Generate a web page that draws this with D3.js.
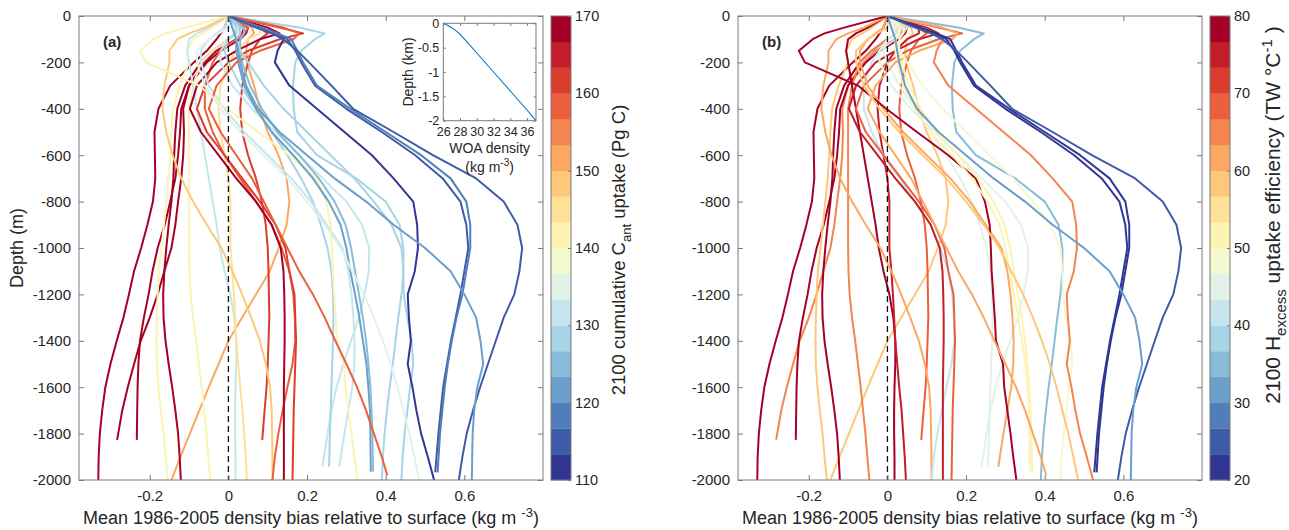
<!DOCTYPE html>
<html>
<head>
<meta charset="utf-8">
<script src="https://cdn.jsdelivr.net/npm/d3@7"></script>
<style>
  body { margin: 0; background: #fff; }
  svg { display: block; }
  text { font-family: "Liberation Sans", Arial, Helvetica, sans-serif; fill: #262626; }
</style>
</head>
<body>
<svg id="fig" width="1289" height="530"></svg>
<script>
// Depth levels (m) at which each model's density-bias profile is given
const depthLevels = [0, 50, 75, 100, 150, 200, 300, 400, 500, 600, 700, 800, 900, 1000,
  1100, 1200, 1300, 1400, 1500, 1600, 1700, 1800, 1900, 2000];

// Mean 1986-2005 density bias relative to surface (kg m-3), one row per model.
// Shorter rows stop early; their last value sits at the model's deepest level.
const biasProfiles = [
  [0,-0.01,-0.02,-0.03,-0.055,-0.088,-0.148,-0.178,-0.188,-0.187,-0.186,-0.192,-0.206,-0.222,-0.24,-0.253,-0.267,-0.284,-0.3,-0.313,-0.321,-0.327,-0.33,-0.331],
  [0,0.04,0.035,0.02,-0.03,-0.06,-0.1,-0.115,-0.113,-0.115,-0.12,-0.128,-0.135,-0.145,-0.163,-0.18,-0.2,-0.223,-0.24,-0.256,-0.27,-0.283],
  [0,0.05,0.045,0.03,-0.02,-0.055,-0.1,-0.12,-0.123,-0.128,-0.135,-0.148,-0.162,-0.18,-0.193,-0.203,-0.215,-0.225,-0.229,-0.231,-0.232,-0.233],
  [0,-0.04,-0.065,-0.09,-0.105,-0.1,-0.124,-0.141,-0.145,-0.148,-0.152,-0.158,-0.164,-0.17,-0.177,-0.18,-0.182,-0.183,-0.182,-0.178,-0.172,-0.165,-0.16,-0.154],
  [0,0.06,0.065,0.05,0.045,0.047,0.065,0.08,0.1,0.127,0.148,0.155,0.148,0.128,0.105,0.07,0.035,0.0,-0.025,-0.05,-0.074,-0.098,-0.122,-0.145],
  [0,0.03,0.02,0.0,-0.04,-0.07,-0.11,-0.13,-0.135,-0.138,-0.14,-0.145,-0.152,-0.158,-0.163,-0.166,-0.165,-0.16,-0.152,-0.143,-0.135,-0.128,-0.124,-0.121],
  [0,0.03,0.02,0.0,-0.04,-0.07,-0.09,-0.1,-0.1,-0.1,-0.1,-0.1,-0.1,-0.1,-0.099,-0.096,-0.09,-0.082,-0.075,-0.068,-0.062,-0.056,-0.051,-0.046],
  [0,-0.05,-0.08,-0.1,-0.105,-0.1,-0.09,-0.08,-0.07,-0.06,-0.05,-0.04,-0.03,-0.022,-0.01,0.005,0.015,0.02,0.02,0.018,0.017,0.017,0.018,0.018],
  [0,0.08,0.08,0.05,0.02,0.0,-0.02,-0.025,-0.02,-0.01,0.0,0.005,0.005,0.005,0.01,0.014,0.017,0.02,0.025,0.03,0.036,0.04,0.044,0.047],
  [0,0.08,0.1,0.08,0.06,0.05,0.035,0.03,0.035,0.05,0.07,0.085,0.095,0.1,0.102,0.103,0.104,0.102,0.1,0.097,0.092,0.086],
  [0,-0.06,-0.1,-0.13,-0.15,-0.15,-0.163,-0.168,-0.158,-0.142,-0.12,-0.09,-0.055,-0.018,0.01,0.035,0.058,0.08,0.095,0.106,0.11,0.111,0.112,0.112],
  [0,0.05,0.04,0.02,-0.02,-0.04,-0.06,-0.06,-0.04,-0.01,0.03,0.07,0.11,0.135,0.155,0.165,0.169,0.17,0.163,0.15,0.138,0.127,0.118,0.112],
  [0,0.1,0.13,0.08,0.02,-0.03,-0.08,-0.098,-0.07,-0.025,0.02,0.07,0.11,0.133,0.14,0.142,0.143,0.143,0.142,0.141,0.141,0.141,0.141,0.141],
  [0,0.13,0.19,0.13,0.05,0.0,-0.06,-0.08,-0.055,-0.01,0.035,0.08,0.12,0.145,0.155,0.168,0.17,0.172,0.17,0.168,0.166,0.165,0.164,0.163],
  [0,0.03,0.02,0.0,-0.02,-0.02,0.01,0.06,0.12,0.18,0.24,0.3,0.34,0.358,0.357,0.346,0.332,0.312,0.292,0.275,0.262,0.252,0.239],
  [0,0.02,0.015,0.0,-0.01,0.0,0.03,0.07,0.11,0.15,0.185,0.215,0.235,0.252,0.262,0.266,0.267,0.266,0.264,0.262,0.26,0.258,0.256],
  [0,-0.01,-0.03,-0.05,-0.07,-0.07,-0.05,-0.01,0.04,0.1,0.16,0.21,0.25,0.29,0.305,0.313,0.318,0.321,0.32,0.315,0.305,0.295,0.282],
  [0,-0.11,-0.16,-0.19,-0.225,-0.21,-0.075,-0.003,0.075,0.155,0.225,0.248,0.26,0.263,0.265,0.269,0.273,0.276,0.294,0.297,0.305,0.313,0.32,0.328],
  [0,0.03,0.03,0.02,0.02,0.025,0.04,0.07,0.11,0.165,0.215,0.255,0.285,0.3,0.31,0.322,0.333,0.342,0.351,0.356,0.36,0.361,0.362],
  [0,0.04,0.04,0.03,0.03,0.035,0.055,0.085,0.125,0.18,0.23,0.27,0.298,0.312,0.322,0.332,0.342,0.35,0.356,0.361,0.364,0.366,0.368],
  [0,0.18,0.245,0.22,0.185,0.17,0.164,0.166,0.175,0.225,0.325,0.4,0.435,0.445,0.445,0.44,0.432,0.425,0.418,0.41,0.403,0.397,0.393,0.39],
  [0,0.14,0.18,0.165,0.08,0.02,-0.03,-0.05,-0.02,0.02,0.06,0.09,0.12,0.15,0.18,0.215,0.245,0.272,0.3,0.327,0.35,0.37,0.39,0.404],
  [0,0.03,0.03,0.02,0.03,0.05,0.09,0.14,0.2,0.26,0.32,0.37,0.415,0.44,0.445,0.446,0.455,0.466,0.47,0.462,0.455,0.448,0.443,0.44],
  [0,0.0,-0.025,-0.05,-0.08,-0.08,-0.06,-0.02,0.03,0.09,0.15,0.2,0.245,0.285,0.315,0.345,0.37,0.393,0.413,0.43,0.445,0.46,0.473,0.485],
  [0,0.08,0.12,0.14,0.125,0.118,0.155,0.225,0.295,0.365,0.42,0.47,0.48,0.482,0.474,0.456,0.459,0.464,0.456,0.468,0.478,0.49,0.507,0.523],
  [0,0.08,0.12,0.15,0.17,0.185,0.22,0.3,0.39,0.475,0.545,0.59,0.605,0.61,0.6,0.59,0.578,0.566,0.556,0.546,0.54,0.534,0.526],
  [0,0.085,0.125,0.16,0.175,0.19,0.225,0.31,0.4,0.49,0.565,0.605,0.615,0.615,0.605,0.595,0.58,0.568,0.558,0.55,0.544,0.538,0.532],
  [0,0.07,0.11,0.14,0.175,0.205,0.262,0.317,0.42,0.52,0.63,0.7,0.735,0.747,0.74,0.727,0.7,0.68,0.66,0.64,0.622,0.606,0.595,0.586],
  [0,0.01,0.015,0.02,0.025,0.03,0.045,0.075,0.13,0.2,0.27,0.35,0.42,0.5,0.565,0.6,0.63,0.641,0.648,0.633,0.625,0.621,0.62,0.619]
];

// Deepest level reached by each model (m)
const profileBottom = [2000,1827,1827,2000,2000,2000,2000,2000,2000,1827,2000,2000,2000,2000,
  1943,1943,1943,2000,1964,1964,2000,1980,2000,2000,2000,1967,1967,2000,2000];

// 2100 cumulative anthropogenic carbon uptake (Pg C), panel (a) colouring
const cantUptake = [168.5,167.6,168.0,142.5,150.5,169.0,141.8,131.0,145.0,161.5,149.0,158.0,167.5,162.0,
  130.5,128.2,131.5,141.0,122.0,124.5,127.0,159.0,129.0,134.5,111.0,116.0,117.5,114.5,120.5];

// 2100 excess heat uptake efficiency (TW °C-1), panel (b) colouring
const heatEfficiency = [78.2,64.5,77.4,58.5,59.0,77.0,64.0,79.0,74.0,69.0,62.0,41.0,74.5,68.0,
  44.5,45.5,60.0,79.5,50.5,51.0,34.0,61.5,48.0,57.5,63.8,21.5,22.5,25.0,31.0];

const biasTicks = [-0.2, 0, 0.2, 0.4, 0.6];
const depthTicks = [0, -200, -400, -600, -800, -1000, -1200, -1400, -1600, -1800, -2000];
const cantTicks = [110, 120, 130, 140, 150, 160, 170];
const heatTicks = [20, 30, 40, 50, 60, 70, 80];

// World Ocean Atlas in-situ density profile for the inset
const woaDensity = [26, 26.4, 26.8, 27.3, 27.8, 28.8, 30, 31, 32, 33, 34, 35, 36, 37.07];
const woaDepthKm = [0, -0.03, -0.07, -0.125, -0.19, -0.375, -0.61, -0.805, -1.0, -1.195, -1.39, -1.585, -1.78, -2.0];
const insetXTicks = [26, 28, 30, 32, 34, 36];
const insetYTicks = [0, -0.5, -1, -1.5, -2];

const svg = d3.select("#fig");
const W = 464, H = 464, TOP = 16;
const AXIS = "#7a7a7a";
const nBands = 18;
const bandColor = i => d3.interpolateRdYlBu(1 - i / (nBands - 1));

const x = d3.scaleLinear().domain([-0.38, 0.8]).range([0, W]);
const y = d3.scaleLinear().domain([0, -2000]).range([0, H]);

const fmt = d => String(d);

function styleAxis(g) {
  g.select(".domain").remove();
  g.selectAll(".tick line").attr("stroke", AXIS).attr("stroke-width", 1);
  g.selectAll(".tick text").attr("fill", "#262626").attr("font-family", null);
}

function profilePoints(i) {
  const vals = biasProfiles[i];
  return vals.map((v, j) => [v, j === vals.length - 1 ? profileBottom[i] : depthLevels[j]]);
}

const panels = [
  { left: 79, tag: "(a)", values: cantUptake, domain: [110, 170], ticks: cantTicks,
    cbLabel: { size: 18.5, x: 624.5, y: 250 }, inset: true },
  { left: 738, tag: "(b)", values: heatEfficiency, domain: [20, 80], ticks: heatTicks,
    cbLabel: { size: 21, x: 1280, y: 215 }, inset: false }
];

panels.forEach((p, pi) => {
  const g = svg.append("g").attr("transform", `translate(${p.left},${TOP})`);
  const clipId = "clip" + pi;
  g.append("clipPath").attr("id", clipId).append("rect").attr("width", W).attr("height", H);

  const band = v => Math.max(0, Math.min(nBands - 1,
    Math.floor((v - p.domain[0]) / (p.domain[1] - p.domain[0]) * nBands)));

  const line = d3.line().x(d => x(d[0])).y(d => y(-d[1]));
  const lines = g.append("g").attr("clip-path", `url(#${clipId})`);
  biasProfiles.forEach((_, i) => {
    lines.append("path")
      .attr("d", line(profilePoints(i)))
      .attr("fill", "none")
      .attr("stroke", bandColor(band(p.values[i])))
      .attr("stroke-width", 2)
      .attr("stroke-linejoin", "round");
  });

  // zero-bias reference
  g.append("line")
    .attr("x1", x(0)).attr("x2", x(0)).attr("y1", y(0)).attr("y2", y(-2000))
    .attr("stroke", "#111").attr("stroke-width", 1.3).attr("stroke-dasharray", "6,4");

  // box and ticks
  g.append("rect").attr("width", W).attr("height", H)
    .attr("fill", "none").attr("stroke", AXIS).attr("stroke-width", 1);

  g.append("g").call(d3.axisLeft(y).tickValues(depthTicks).tickFormat(fmt)
      .tickSizeInner(-5).tickSizeOuter(0).tickPadding(8))
    .attr("font-size", 15).call(styleAxis);
  g.append("g").attr("transform", `translate(${W},0)`)
    .call(d3.axisRight(y).tickValues(depthTicks).tickFormat("").tickSizeInner(-5).tickSizeOuter(0))
    .call(styleAxis);
  g.append("g").attr("transform", `translate(0,${H})`)
    .call(d3.axisBottom(x).tickValues(biasTicks).tickFormat(fmt)
      .tickSizeInner(-5).tickSizeOuter(0).tickPadding(10))
    .attr("font-size", 15).call(styleAxis);
  g.append("g")
    .call(d3.axisTop(x).tickValues(biasTicks).tickFormat("").tickSizeInner(-5).tickSizeOuter(0))
    .call(styleAxis);

  g.append("text").attr("x", 24).attr("y", 31)
    .attr("font-size", 15).attr("font-weight", "bold").text(p.tag);

  // axis titles
  const xl = g.append("text").attr("x", W / 2).attr("y", 508)
    .attr("text-anchor", "middle").attr("font-size", 18);
  xl.append("tspan").text("Mean 1986-2005 density bias relative to surface (kg m ");
  xl.append("tspan").attr("font-size", 13).attr("dy", -7).text("-3");
  xl.append("tspan").attr("dy", 7).text(")");

  if (pi === 0) {
    svg.append("text").attr("transform", `translate(23,${TOP + H / 2}) rotate(-90)`)
      .attr("text-anchor", "middle").attr("font-size", 18).text("Depth (m)");
  }

  // discrete colour bar
  const cbX = p.left + 472, cbW = 20;
  const cy = d3.scaleLinear().domain(p.domain).range([TOP + H, TOP]);
  const step = (p.domain[1] - p.domain[0]) / nBands;
  const cb = svg.append("g");
  d3.range(nBands).forEach(i => {
    cb.append("rect")
      .attr("x", cbX).attr("width", cbW)
      .attr("y", cy(p.domain[0] + (i + 1) * step))
      .attr("height", cy(p.domain[0] + i * step) - cy(p.domain[0] + (i + 1) * step) + 0.3)
      .attr("fill", bandColor(i));
  });
  cb.append("rect").attr("x", cbX).attr("y", TOP).attr("width", cbW).attr("height", H)
    .attr("fill", "none").attr("stroke", AXIS).attr("stroke-width", 1);
  cb.append("g").attr("transform", `translate(${cbX + cbW},0)`)
    .call(d3.axisRight(cy).tickValues(p.ticks).tickFormat(fmt)
      .tickSizeInner(-3).tickSizeOuter(0).tickPadding(4))
    .attr("font-size", 14.5).call(styleAxis);

  const cl = svg.append("text")
    .attr("transform", `translate(${p.cbLabel.x},${p.cbLabel.y}) rotate(-90)`)
    .attr("text-anchor", "middle").attr("font-size", p.cbLabel.size);
  const sub = Math.round(p.cbLabel.size * 0.72), shift = Math.round(p.cbLabel.size * 0.3);
  if (pi === 0) {
    cl.append("tspan").text("2100 cumulative C");
    cl.append("tspan").attr("font-size", sub).attr("dy", shift).text("ant");
    cl.append("tspan").attr("dy", -shift).text(" uptake (Pg C)");
  } else {
    cl.append("tspan").text("2100 H");
    cl.append("tspan").attr("font-size", sub).attr("dy", shift).text("excess");
    cl.append("tspan").attr("dy", -shift).text(" uptake efficiency (TW °C");
    cl.append("tspan").attr("font-size", sub).attr("dy", -shift * 1.4).text("-1");
    cl.append("tspan").attr("dy", shift * 1.4).text(" )");
  }

  if (p.inset) {
    const ix = 443.3, iy = 23.3, iw = 92.7, ih = 97.4;
    const gi = svg.append("g").attr("transform", `translate(${ix},${iy})`);
    const sx = d3.scaleLinear().domain(d3.extent(woaDensity)).range([0, iw]);
    const sy = d3.scaleLinear().domain([0, -2]).range([0, ih]);
    gi.append("rect").attr("width", iw).attr("height", ih).attr("fill", "#fff");
    gi.append("path")
      .attr("d", d3.line().x((d, i) => sx(woaDensity[i])).y((d, i) => sy(woaDepthKm[i]))(woaDensity))
      .attr("fill", "none").attr("stroke", "#0072BD").attr("stroke-width", 1.1);
    gi.append("rect").attr("width", iw).attr("height", ih)
      .attr("fill", "none").attr("stroke", AXIS).attr("stroke-width", 1);
    gi.append("g").call(d3.axisLeft(sy).tickValues(insetYTicks).tickFormat(fmt)
        .tickSizeInner(-2.5).tickSizeOuter(0).tickPadding(4))
      .attr("font-size", 12.5).call(styleAxis);
    gi.append("g").attr("transform", `translate(${iw},0)`)
      .call(d3.axisRight(sy).tickValues(insetYTicks).tickFormat("").tickSizeInner(-2.5).tickSizeOuter(0))
      .call(styleAxis);
    gi.append("g").attr("transform", `translate(0,${ih})`)
      .call(d3.axisBottom(sx).tickValues(insetXTicks).tickFormat(fmt)
        .tickSizeInner(-2.5).tickSizeOuter(0).tickPadding(6))
      .attr("font-size", 12.5).call(styleAxis);
    gi.append("g")
      .call(d3.axisTop(sx).tickValues(insetXTicks).tickFormat("").tickSizeInner(-2.5).tickSizeOuter(0))
      .call(styleAxis);
    gi.append("text").attr("transform", `translate(-30,${ih / 2}) rotate(-90)`)
      .attr("text-anchor", "middle").attr("font-size", 14).text("Depth (km)");
    gi.append("text").attr("x", iw / 2).attr("y", 130)
      .attr("text-anchor", "middle").attr("font-size", 14).text("WOA density");
    const u = gi.append("text").attr("x", iw / 2).attr("y", 149)
      .attr("text-anchor", "middle").attr("font-size", 14);
    u.append("tspan").text("(kg m");
    u.append("tspan").attr("font-size", 10).attr("dy", -6).text("-3");
    u.append("tspan").attr("dy", 6).text(")");
  }
});
</script>
</body>
</html>
